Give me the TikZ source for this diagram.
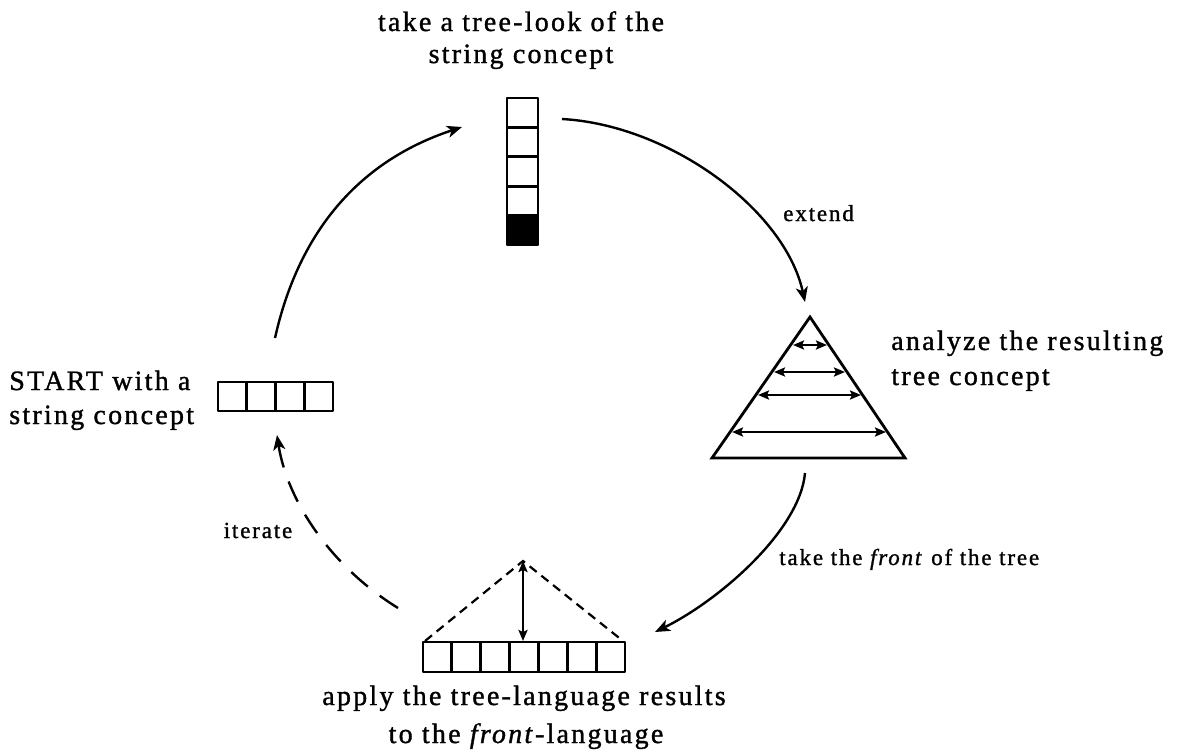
\documentclass[tikz,border=0pt]{standalone}
\usepackage{fontspec}
\setmainfont{Liberation Serif}[LetterSpace=8.0,
  BoldFont={Liberation Serif}, BoldFeatures={FakeBold=1.2},
  BoldItalicFont={Liberation Serif Italic}, BoldItalicFeatures={FakeBold=1.2}]
\usetikzlibrary{arrows.meta}
\begin{document}
\begin{tikzpicture}[x=1pt,y=-1pt,line width=2.6pt,
  big/.style={font=\fontsize{28}{34}\selectfont\bfseries,inner sep=0pt},
  small/.style={font=\fontsize{23}{27}\selectfont\bfseries,inner sep=0pt},
  cyc/.style={line width=2.4pt,-{Stealth[length=15pt,width=12pt,inset=4pt]}},
  inner/.style={line width=2.3pt,{Stealth[length=11pt,width=9pt,inset=2pt]}-{Stealth[length=11pt,width=9pt,inset=2pt]}},
  cell/.style={line width=2.8pt,line join=round}]
\useasboundingbox (0,0) rectangle (1185,755);

% ---- texts
\node[big,anchor=base] (t1a) at (521,31) {take a tree-look of the};
\node[big,anchor=base] (t1b) at (521,63) {string concept};
\node[big,anchor=base west] (t2a) at (890,350) {analyze the resulting};
\node[big,anchor=base west] (t2b) at (890,385) {tree concept};
\node[big,anchor=base] (t3a) at (524,705) {apply the tree-language results};
\node[big,anchor=base] (t3b) at (526,743) {to the \textit{front}-language};
\node[big,anchor=base west] (t4a) at (8,390) {START with a};
\node[big,anchor=base west] (t4b) at (8,424) {string concept};
\node[small,anchor=base west] (lext) at (782,221) {extend};
\node[small,anchor=base west] (lfront) at (778,565) {take the \textit{front} of the tree};
\node[small,anchor=base] (liter) at (258,538) {iterate};

% ---- top vertical string
\fill (507,216) rectangle (538,245);
\foreach \i in {0,...,4}
  \draw[cell] (507,98+29.4*\i) rectangle (538,127.4+29.4*\i);

% ---- left string (4 cells)
\foreach \i in {0,...,3}
  \draw[cell] (218+28.75*\i,382) rectangle (246.75+28.75*\i,411);

% ---- tree triangle
\draw[cell,line join=miter] (810,317) -- (905,458) -- (712,458) -- cycle;
\foreach \y/\a/\b in {345/793/827,372/774/845,395/758/861,432/732/886}
  \draw[inner] (\a,\y) -- (\b,\y);

% ---- bottom string with dashed triangle
\foreach \i in {0,...,6}
  \draw[cell] (423+28.86*\i,642) rectangle (451.86+28.86*\i,672);
\coordinate (apex) at (523,561);
\coordinate (bl) at (425,641);
\coordinate (br) at (623,641);
\coordinate (mid) at (523,641);
\draw[line width=2.2pt,dash pattern=on 9pt off 6pt] (bl) -- (apex) -- (br);
\draw[inner] (mid) -- (apex);

% ---- cycle arcs
\coordinate (rS) at (562,119); \coordinate (rE) at (805,302);
\draw[cyc] (rS) .. controls (670,125) and (785,210) .. (rE);
\coordinate (bS) at (805,473); \coordinate (bE) at (655,632);
\draw[cyc] (bS) .. controls (800,530) and (720,600) .. (bE);
\coordinate (dS) at (398,608); \coordinate (dE) at (277,435);
\draw[cyc,dash pattern=on 22pt off 15pt] (dS) .. controls (330,566) and (287,500) .. (dE);
\coordinate (lS) at (275,338); \coordinate (lE) at (462,127);
\draw[cyc] (lS) .. controls (298,235) and (356,162) .. (lE);
\end{tikzpicture}
\end{document}
